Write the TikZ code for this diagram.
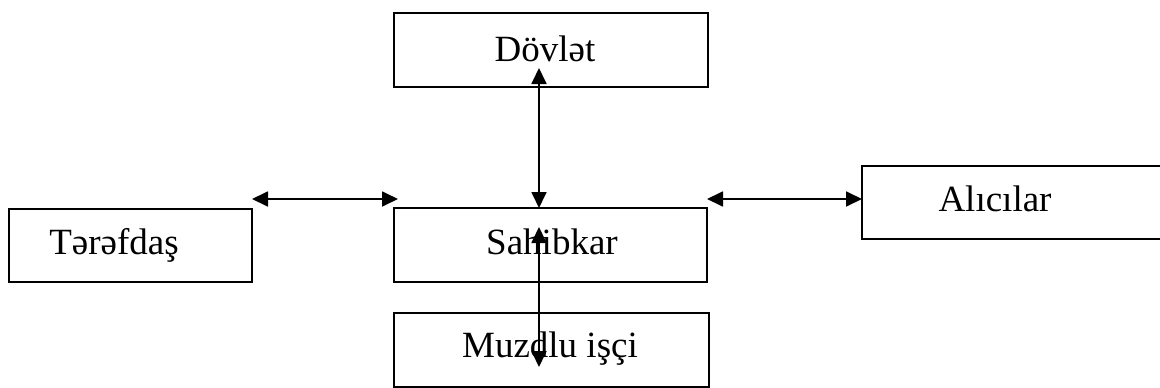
\documentclass[tikz,border=0pt]{standalone}
\usepackage{fontspec}
\setmainfont{Liberation Serif}
\usetikzlibrary{arrows.meta}
\begin{document}
\begin{tikzpicture}[x=1pt,y=-1pt,
  box/.style={draw,line width=2pt,rectangle,inner sep=0pt,outer sep=0pt},
  lbl/.style={anchor=base,inner sep=0pt,font=\fontsize{37}{40}\selectfont},
  tip/.style={Triangle[length=16pt,width=15pt]},
  link/.style={line width=1.8pt,{Triangle[length=16pt,width=15pt]}-{Triangle[length=16pt,width=15pt]}}]
\useasboundingbox (0,0) rectangle (1160,388);
% boxes
\node[box,minimum width=314pt,minimum height=74pt] (dov) at (551,50) {};
\node[box,minimum width=243pt,minimum height=73pt] (ter) at (130.5,245.5) {};
\node[box,minimum width=313pt,minimum height=74pt] (sah) at (550.5,245) {};
\node[box,minimum width=315pt,minimum height=74pt] (muz) at (551.5,350) {};
\node[box,minimum width=313pt,minimum height=73pt] (ali) at (1018.5,202.5) {};
% labels
\node[lbl] (tdov) at (545,61) {Dövlət};
\node[lbl] (tter) at (114,254) {Tərəfdaş};
\node[lbl] (tsah) at (552,254) {Sahibkar};
\node[lbl] (tmuz) at (550,357) {Muzdlu işçi};
\node[lbl] (tali) at (995,211) {Alıcılar};
% connector ends
\coordinate (l1) at (252,199);
\coordinate (l2) at (398,199);
\coordinate (r1) at (707,199);
\coordinate (r2) at (862,199);
\coordinate (u1) at (539,68);
\coordinate (u2) at (539,208);
\coordinate (d1) at (539,227);
\coordinate (d2) at (539,367);
% connectors
\draw[link] (l1) -- (l2);
\draw[link] (r1) -- (r2);
\draw[link] (u1) -- (u2);
\draw[link] (d1) -- (d2);
\end{tikzpicture}
\end{document}
